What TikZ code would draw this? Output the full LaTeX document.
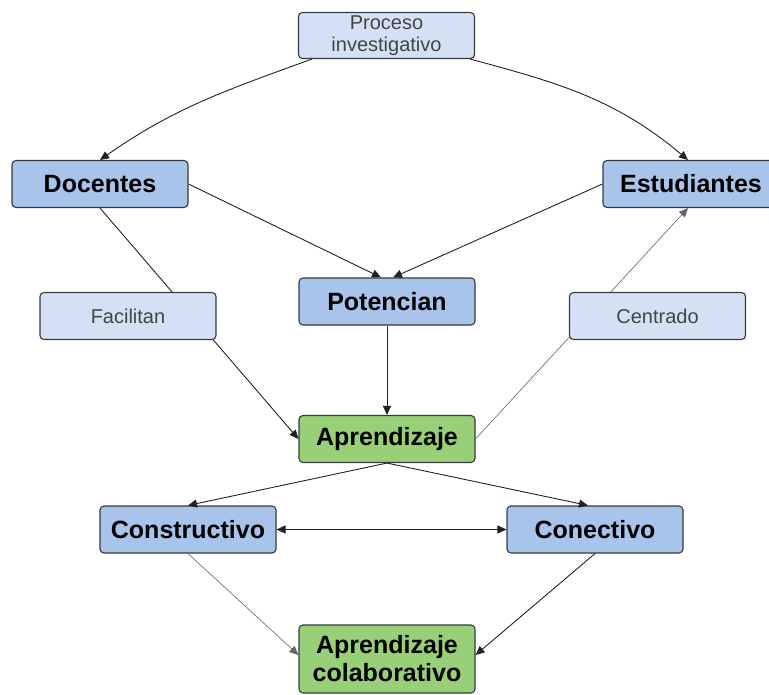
\documentclass[tikz,border=0pt]{standalone}
\usepackage{fontspec}
\setmainfont{Liberation Sans}
\usepackage{tikz}
\usetikzlibrary{calc}
\usetikzlibrary{arrows.meta}
\definecolor{lightbox}{HTML}{D4E1F5}
\definecolor{bluebox}{HTML}{A9C4EB}
\definecolor{greenbox}{HTML}{97D077}
\definecolor{boxline}{HTML}{36393D}
\definecolor{edgeline}{HTML}{222222}
\definecolor{labeltext}{HTML}{444444}

\begin{document}
\begin{tikzpicture}[x=1pt,y=1pt,
  >={Triangle[length=9pt,width=8pt]},
  box/.style={draw=boxline,line width=1.1pt,rounded corners=4pt,
    minimum width=176pt,minimum height=47pt,inner sep=0pt,align=center},
  mainbox/.style={box,fill=bluebox,font=\bfseries\fontsize{25}{27}\selectfont},
  greenbox/.style={box,fill=greenbox,font=\bfseries\fontsize{25}{28}\selectfont},
  labelbox/.style={box,fill=lightbox,text=labeltext,font=\fontsize{20}{22}\selectfont},
  edge/.style={draw=edgeline,line width=0.9pt},
  lightedge/.style={draw=edgeline!70,line width=0.6pt}]
% Page size
\useasboundingbox (0,0) rectangle (769,-694);
% Top label
\node[labelbox,minimum height=46pt] (proceso) at (386.5,-35.5) {Proceso\\investigativo};
% Actors
\node[mainbox] (docentes) at (100,-184) {Docentes};
\node[mainbox] (estudiantes) at (691,-184) {Estudiantes};
\node[mainbox] (potencian) at (387,-301.5) {Potencian};
% Learning
\node[greenbox] (aprendizaje) at (387,-439) {Aprendizaje};
\node[mainbox] (constructivo) at (188,-529.5) {Constructivo};
\node[mainbox] (conectivo) at (595,-529.5) {Conectivo};
\node[greenbox,minimum height=68pt] (colaborativo) at (387,-659) {Aprendizaje\\colaborativo};
% Curved arrows from the top label
\draw[edge,->] ([xshift=14]proceso.south west) to[out=200,in=35] (docentes.north);
\draw[edge,->] ([xshift=-5]proceso.south east) to[out=-15,in=140] ([xshift=-3]estudiantes.north);
% Arrows into Potencian
\draw[edge,->] (docentes.east) -- ([xshift=-6]potencian.north);
\draw[edge,->] (estudiantes.west) -- ([xshift=6]potencian.north);
\draw[edge,->] (potencian) -- (aprendizaje);
% Long side lines (label boxes sit on them)
\draw[edge,->] (docentes.south) -- (aprendizaje.west);
\draw[lightedge,->] (aprendizaje.east) -- ([xshift=-3]estudiantes.south);
% Lower part
\draw[edge,->] (aprendizaje.south) -- (constructivo.north);
\draw[edge,->] (aprendizaje.south) -- ([xshift=-7]conectivo.north);
\draw[edge,<->] (constructivo) -- (conectivo);
\draw[lightedge,->] (constructivo.south) -- ([yshift=4]colaborativo.west);
\draw[edge,->] (conectivo.south) -- ([yshift=4]colaborativo.east);
% Label boxes on the side lines
\node[labelbox] (facilitan) at (128,-316) {Facilitan};
\node[labelbox] (centrado) at (657.5,-316) {Centrado};
\end{tikzpicture}
\end{document}
